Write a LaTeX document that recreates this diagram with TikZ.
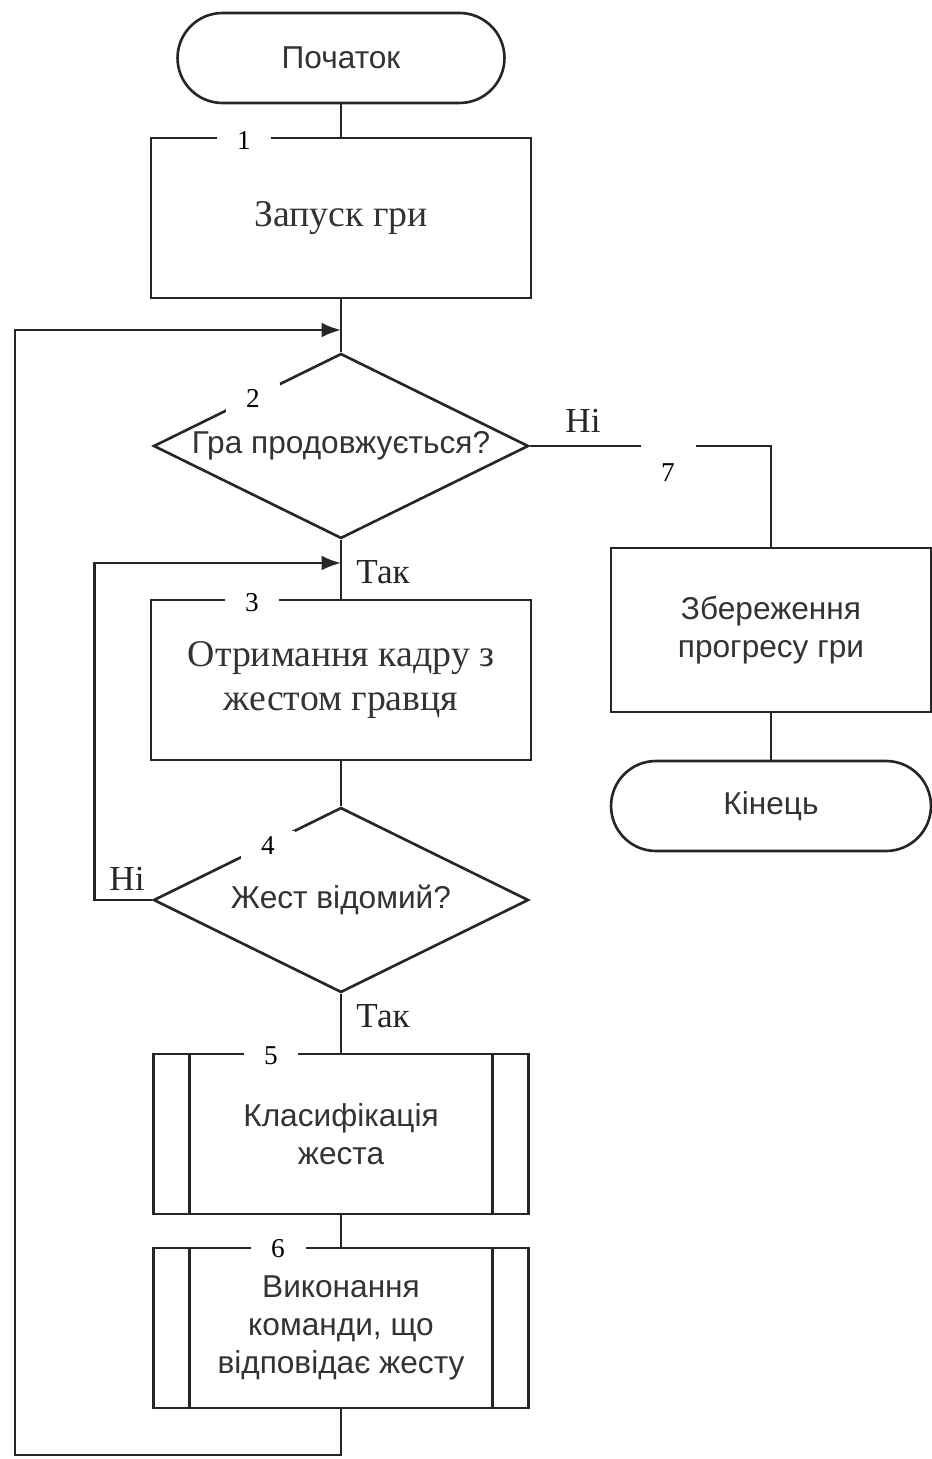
\documentclass[tikz,border=0pt]{standalone}
\usepackage{fontspec}
\setmainfont{Liberation Serif}
\newfontfamily\sansua{Liberation Sans}
\usetikzlibrary{shapes.geometric, arrows.meta}

\newcommand{\serifbig}{\fontsize{21.5}{24.5}\selectfont}
\newcommand{\sanstext}{\sansua\fontsize{18}{21.6}\selectfont}
\newcommand{\numfont}{\fontsize{15.5}{17}\selectfont}
\newcommand{\branchfont}{\fontsize{20}{22}\selectfont}

\begin{document}
\begin{tikzpicture}
        [x=0.02cm, y=-0.02cm,
        line/.style={draw=black!85, line width=1.5pt},
        arrow/.style={line, -{Latex[length=11pt, width=8.5pt]}},
        terminal/.style={line, rectangle, rounded corners=0.9cm, minimum height=1.8cm, text=black!80, font=\sanstext},
        process/.style={line, rectangle, minimum width=7.6cm, minimum height=3.2cm, align=center, text=black!80, font=\serifbig},
        subproc/.style={line, rectangle, minimum width=7.5cm, minimum height=3.2cm, align=center, text=black!80, font=\sanstext},
        decision/.style={line, diamond, inner sep=0pt, minimum width=7.5cm, minimum height=3.7cm},
        numlab/.style={fill=white, inner sep=1pt, minimum width=1.1cm, minimum height=0.6cm, font=\numfont},
        branch/.style={font=\branchfont, text=black!85}]

        \useasboundingbox (0,0) rectangle (932,1459);

        \node[terminal, minimum width=6.54cm] (start) at (341,58) {Початок};
        \node[process] (b1) at (341,218) {Запуск гри};
        \node[decision, label={[text=black!80, font=\sanstext]center:Гра продовжується?}] (d2) at (341,446) {};
        \node[process] (b3) at (341,680) {Отримання кадру з\\жестом гравця};
        \node[decision, label={[text=black!80, font=\sanstext]center:Жест відомий?}] (d4) at (341,900) {};
        \node[subproc] (b5) at (341,1134) {Класифікація\\жеста};
        \node[subproc] (b6) at (341,1328) {Виконання\\команди, що\\відповідає жесту};
        \node[process, font=\sanstext, minimum width=6.4cm, minimum height=3.28cm] (b7) at (771,630) {Збереження\\прогресу гри};
        \node[terminal, minimum width=6.4cm] (stop) at (771,806) {Кінець};

        \coordinate (join2) at (341,330);
        \coordinate (join3) at (341,563);
        \coordinate (loopcorner) at (15,1455);

        % inner sides of the subprocess boxes
        \draw[line] ([xshift=0.74cm]b5.north west) -- ([xshift=0.74cm]b5.south west);
        \draw[line] ([xshift=-0.74cm]b5.north east) -- ([xshift=-0.74cm]b5.south east);
        \draw[line] ([xshift=0.74cm]b6.north west) -- ([xshift=0.74cm]b6.south west);
        \draw[line] ([xshift=-0.74cm]b6.north east) -- ([xshift=-0.74cm]b6.south east);

        % main flow
        \draw[line] (start) -- (b1);
        \draw[line] (b1) -- (d2);
        \draw[line] (d2) -- (b3);
        \draw[line] (b3) -- (d4);
        \draw[line] (d4) -- (b5);
        \draw[line] (b5) -- (b6);

        % game over branch
        \draw[line] (d2.east) -| (b7.north);
        \draw[line] (b7) -- (stop);

        % loops back
        \draw[arrow] (d4.west) -- ++(-58,0) |- (join3);
        \draw[arrow] (b6.south) |- (loopcorner) |- (join2);

        % block numbers
        \node[numlab] (n1) at (244,141) {1};
        \node[numlab] (n2) at (253,398) {2};
        \node[numlab] (n3) at (252,603) {3};
        \node[numlab] (n4) at (268,846) {4};
        \node[numlab] (n5) at (271,1056) {5};
        \node[numlab] (n6) at (278,1249) {6};
        \node[numlab, minimum height=1.3cm, anchor=north] (n7) at (668,440) {7};

        % branch labels
        \node[branch] (no2) at (583,421) {Ні};
        \node[branch] (yes2) at (383,572) {Так};
        \node[branch] (no4) at (127,879) {Ні};
        \node[branch] (yes4) at (383,1016) {Так};

    \end{tikzpicture}
\end{document}
